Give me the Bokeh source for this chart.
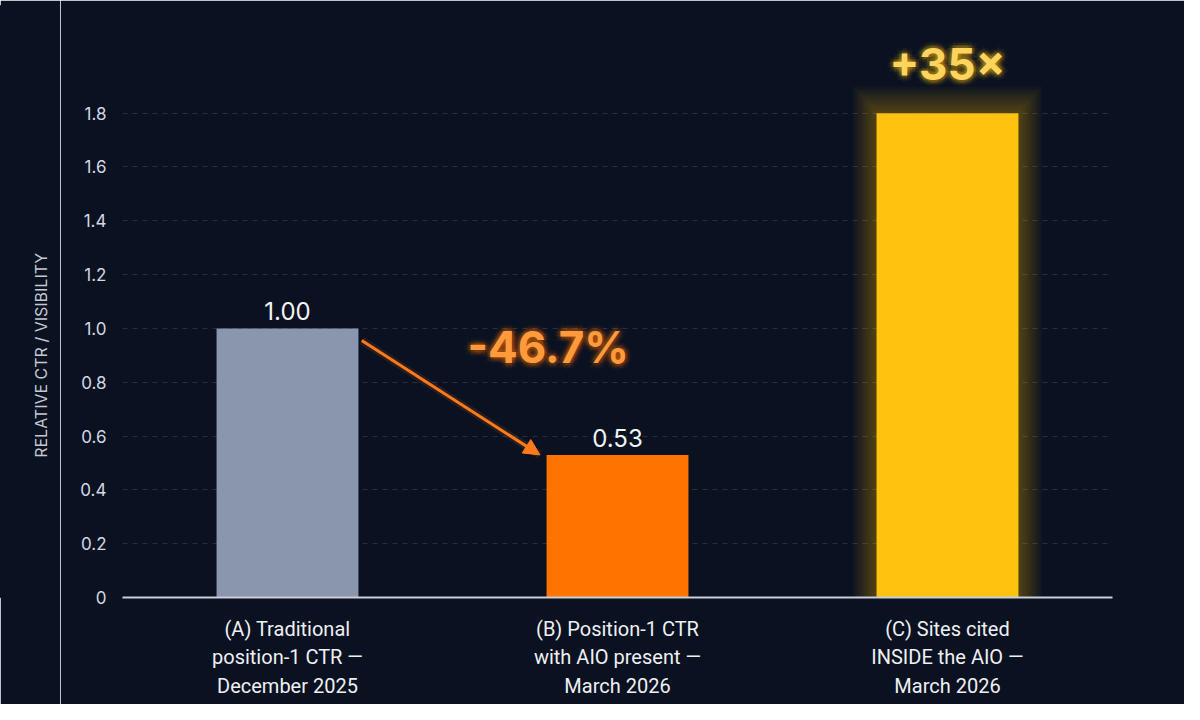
import math
from bokeh.plotting import figure
from bokeh.layouts import row
from bokeh.models import Range1d, FixedTicker, Arrow, NormalHead, CustomJSTickFormatter
from bokeh.embed import file_html
from bokeh.resources import INLINE
from bokeh.core.properties import value

# data
categories = [
    "(A) Traditional\nposition-1 CTR \u2014\nDecember 2025",
    "(B) Position-1 CTR\nwith AIO present \u2014\nMarch 2026",
    "(C) Sites cited\nINSIDE the AIO \u2014\nMarch 2026",
]
values = [1.00, 0.53, 1.80]
value_labels = ["1.00", "0.53", ""]
bar_colors = ["#8a96ad", "#ff7300", "#ffc20e"]
y_ticks = [0, 0.2, 0.4, 0.6, 0.8, 1.0, 1.2, 1.4, 1.6, 1.8]
y_title = "RELATIVE CTR / VISIBILITY"
drop_label = "-46.7%"
lift_label = "+35\u00d7"

BG = "#0a1120"
FONT = "Inter"
H = 704
Y_MAX = 2.2
xs = list(range(len(categories)))
bar_w = 0.43

# narrow strip holding the y-axis title, so it can sit beside the 0..1.8 span
side = figure(width=60, height=H, output_backend="svg", toolbar_location=None,
              x_range=Range1d(0, 60), y_range=Range1d(0, Y_MAX),
              background_fill_color=BG, border_fill_color=BG, min_border=0)
side.axis.visible = False
side.grid.visible = False
side.outline_line_color = BG
side.text(x=[40], y=[y_ticks[-1] / 2], text=[y_title], angle=math.pi / 2,
          text_align="center", text_baseline="middle", text_color="#c3c8d2",
          text_font=value(FONT), text_font_size="16px")

p = figure(width=1124, height=H, output_backend="svg", toolbar_location=None,
           x_range=Range1d(-0.5, 2.5), y_range=Range1d(0, Y_MAX),
           background_fill_color=BG, border_fill_color=BG,
           min_border_left=62, min_border_right=72,
           min_border_top=5, min_border_bottom=107)
p.outline_line_color = BG

# glow behind bar C
for k in range(1, 12):
    p.vbar(x=[xs[2]], top=[values[2] + k * 0.009], width=bar_w + k * 0.013,
           color=bar_colors[2], alpha=0.03, line_color=None)

p.vbar(x=xs, top=values, width=bar_w, color=bar_colors, line_color=None)

# value labels
p.text(x=xs, y=values, text=value_labels, text_align="center", text_baseline="bottom",
       y_offset=-8, text_color="#f2f4f8", text_font=value(FONT),
       text_font_size="24px", text_font_style="normal")

# arrow A -> B
ax0 = xs[0] + bar_w / 2 + 0.01
ay0 = values[0] - 0.045
ax1 = xs[1] - bar_w / 2 - 0.02
ay1 = values[1]
p.line(x=[ax0, ax1], y=[ay0, ay1], line_color="#ff7a1a", line_width=8, line_alpha=0.12)
p.add_layout(Arrow(end=NormalHead(size=16, fill_color="#ff7a1a", line_color="#ff7a1a"),
                   x_start=ax0, y_start=ay0, x_end=ax1, y_end=ay1,
                   line_color="#ff7a1a", line_width=3))


def glow_text(x, y, txt, color, glow, size, y_off=0, baseline="middle"):
    for r, a in [(7, 0.04), (5, 0.06), (3, 0.09)]:
        for i in range(8):
            ang = i * math.pi / 4
            p.text(x=[x], y=[y], text=[txt], x_offset=r * math.cos(ang),
                   y_offset=y_off + r * math.sin(ang),
                   text_align="center", text_baseline=baseline, text_color=glow,
                   text_alpha=a, text_font=value(FONT), text_font_size=size,
                   text_font_style="bold")
    p.text(x=[x], y=[y], text=[txt], y_offset=y_off, text_align="center",
           text_baseline=baseline, text_color=color, text_font=value(FONT),
           text_font_size=size, text_font_style="bold")


glow_text(0.79, 0.93, drop_label, "#ff9a3d", "#ff7300", "44px")
glow_text(xs[2], values[2], lift_label, "#ffd45e", "#ffc20e", "44px", y_off=-22, baseline="bottom")

# axes
p.xaxis.ticker = FixedTicker(ticks=xs)
p.xaxis.major_label_overrides = {i: c for i, c in enumerate(categories)}
p.xaxis.major_label_text_color = "#eef0f4"
p.xaxis.major_label_text_font = "Roboto"
p.xaxis.major_label_text_font_size = "20px"
p.xaxis.major_label_standoff = 13
p.xaxis.major_tick_line_color = None
p.xaxis.minor_tick_line_color = None
p.xaxis.axis_line_color = "#c9ced8"
p.xaxis.axis_line_width = 2

p.yaxis.ticker = FixedTicker(ticks=y_ticks)
p.yaxis.formatter = CustomJSTickFormatter(code="return tick == 0 ? '0' : tick.toFixed(1);")
p.yaxis.major_label_text_color = "#d4d8e0"
p.yaxis.major_label_text_font = FONT
p.yaxis.major_label_text_font_size = "17px"
p.yaxis.major_label_standoff = 10
p.yaxis.major_tick_line_color = None
p.yaxis.minor_tick_line_color = None
p.yaxis.axis_line_color = None

p.xgrid.grid_line_color = None
p.ygrid.ticker = FixedTicker(ticks=y_ticks[1:])
p.ygrid.grid_line_color = "#ffffff"
p.ygrid.grid_line_alpha = 0.13
p.ygrid.grid_line_dash = "5 5"

layout = row(side, p, spacing=0)
html = file_html(layout, INLINE)
# dark page behind the figures so the margin matches the background
html = html.replace("<body>", '<body style="background-color:%s">' % BG, 1)
open("out.html", "w").write(html)
